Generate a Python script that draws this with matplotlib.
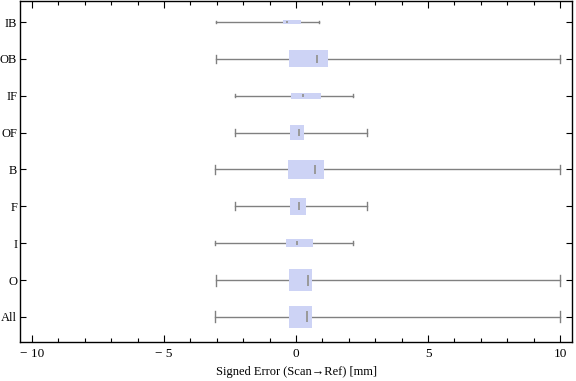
import matplotlib
matplotlib.use("Agg")
import matplotlib.pyplot as plt
from matplotlib.patches import Rectangle
from matplotlib.ticker import MultipleLocator

categories = ["All", "O", "I", "F", "B", "OF", "IF", "OB", "IB"]
whisker_lo = [-3.06, -3.02, -3.06, -2.30, -3.06, -2.30, -2.30, -3.02, -3.04]
q1 =         [-0.27, -0.27, -0.38, -0.23, -0.30, -0.23, -0.19, -0.27, -0.49]
median =     [0.43, 0.47, 0.05, 0.13, 0.71, 0.10, 0.28, 0.78, -0.34]
q3 =         [0.61, 0.61, 0.64, 0.38, 1.06, 0.30, 0.93, 1.21, 0.18]
whisker_hi = [10.0, 10.0, 2.17, 2.70, 10.0, 2.70, 2.17, 10.0, 0.88]
# relative box thickness (fraction of category spacing)
box_thick = [0.59, 0.59, 0.21, 0.45, 0.49, 0.41, 0.17, 0.46, 0.13]

plt.rcParams['font.family'] = ['Liberation Serif', 'DejaVu Serif']

fig = plt.figure(figsize=(5.76, 3.81), dpi=100)
ax = fig.add_axes([20/576, 1 - 342/381, 552/576, 341/381])

box_color = "#CDD3F5"
wcol = "#808080"
for i, cat in enumerate(categories):
    y = i + 1
    h = box_thick[i]
    ax.plot([whisker_lo[i], q1[i]], [y, y], color=wcol, lw=1.0, zorder=2)
    ax.plot([q3[i], whisker_hi[i]], [y, y], color=wcol, lw=1.0, zorder=2)
    for xx in (whisker_lo[i], whisker_hi[i]):
        ax.plot([xx, xx], [y - h / 4, y + h / 4], color=wcol, lw=1.0, zorder=2)
    ax.add_patch(Rectangle((q1[i], y - h / 2), q3[i] - q1[i], h,
                           facecolor=box_color, edgecolor="none", zorder=3))
    ax.plot([median[i], median[i]], [y - h / 4, y + h / 4], color="#999999",
            lw=1.4, zorder=4, solid_capstyle="butt")

ax.set_xlim(-10.45, 10.45)
ax.set_ylim(0.32, 9.57)
ax.set_xticks([-10, -5, 0, 5, 10])
ax.set_xticklabels(["\u2212 10", "\u2212 5", "0", "5", "10"])
ax.xaxis.set_minor_locator(MultipleLocator(1))
ax.set_yticks(range(1, len(categories) + 1))
ax.set_yticklabels(categories)
ax.tick_params(axis="both", which="both", direction="in", top=True, right=True,
               labelsize=9.5, width=0.8, colors="black")
ax.tick_params(axis="x", which="major", length=5, pad=4)
ax.tick_params(axis="x", which="minor", length=3)
ax.tick_params(axis="y", which="major", length=4, pad=2, labelsize=9)
for s in ax.spines.values():
    s.set_linewidth(1.0)
ax.set_xlabel("Signed Error (Scan\u2192Ref) [mm]", fontsize=9, labelpad=5)

fig.savefig("out.png", dpi=100)
